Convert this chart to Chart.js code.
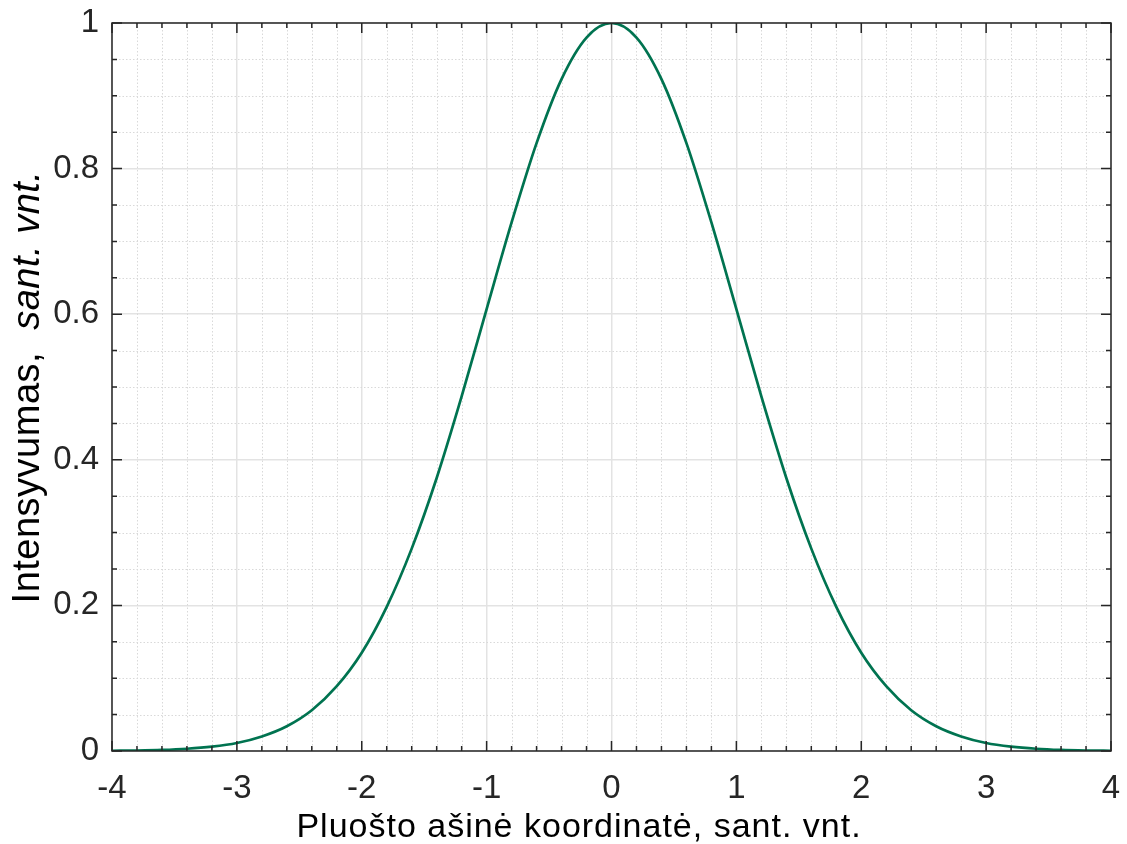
<!DOCTYPE html>
<html>
<head>
<meta charset="utf-8">
<title>Intensyvumas</title>
<script src="https://cdn.jsdelivr.net/npm/chart.js@4.4.1/dist/chart.umd.min.js"></script>
<style>
  html, body { margin: 0; padding: 0; background: #fff; }
  #wrap { width: 1127px; height: 844px; }
</style>
</head>
<body>
<div id="wrap"><canvas id="plot" width="1127" height="844"></canvas></div>
<script>
// Pluošto koordinatė ir intensyvumas
const xValues = [
  -4.0, -3.8, -3.6, -3.4, -3.2, -3.0, -2.8, -2.6, -2.4, -2.2,
  -2.0, -1.8, -1.6, -1.4, -1.2, -1.0, -0.8, -0.6, -0.4, -0.2,
   0.0,  0.2,  0.4,  0.6,  0.8,  1.0,  1.2,  1.4,  1.6,  1.8,
   2.0,  2.2,  2.4,  2.6,  2.8,  3.0,  3.2,  3.4,  3.6,  3.8, 4.0
];
const intensity = [
  0.0003, 0.0007, 0.0015, 0.0031, 0.006, 0.011, 0.020, 0.034, 0.056, 0.089,
  0.135, 0.198, 0.278, 0.375, 0.487, 0.607, 0.726, 0.835, 0.923, 0.980,
  1.000, 0.980, 0.923, 0.835, 0.726, 0.607, 0.487, 0.375, 0.278, 0.198,
  0.135, 0.089, 0.056, 0.034, 0.020, 0.011, 0.006, 0.0031, 0.0015, 0.0007, 0.0003
];

// ašių padalos
const xTicks = [-4, -3, -2, -1, 0, 1, 2, 3, 4];
const yTicks = [0, 0.2, 0.4, 0.6, 0.8, 1];
const xMinor = [-3.8, -3.6, -3.4, -3.2, -2.8, -2.6, -2.4, -2.2, -1.8, -1.6, -1.4, -1.2,
  -0.8, -0.6, -0.4, -0.2, 0.2, 0.4, 0.6, 0.8, 1.2, 1.4, 1.6, 1.8,
  2.2, 2.4, 2.6, 2.8, 3.2, 3.4, 3.6, 3.8];
const yMinor = [0.05, 0.1, 0.15, 0.25, 0.3, 0.35, 0.45, 0.5, 0.55, 0.65, 0.7, 0.75, 0.85, 0.9, 0.95];

const xTitle = "Pluošto ašinė koordinatė, sant. vnt.";
const yTitleMain = "Intensyvumas,  ";
const yTitleUnit = "sant. vnt.";

const FONT = "'Liberation Sans', Arial, sans-serif";
const AXIS_COLOR = '#262626';

// smulkus tinklelis (taškinės linijos)
const minorGrid = {
  id: 'minorGrid',
  beforeDatasetsDraw(chart) {
    const { ctx, chartArea: a, scales: { x, y } } = chart;
    ctx.save();
    ctx.strokeStyle = '#d9d9d9';
    ctx.lineWidth = 1;
    ctx.setLineDash([1.5, 2]);
    ctx.beginPath();
    for (const v of xMinor) {
      const px = Math.round(x.getPixelForValue(v)) + 0.5;
      ctx.moveTo(px, a.top); ctx.lineTo(px, a.bottom);
    }
    for (const v of yMinor) {
      const py = Math.round(y.getPixelForValue(v)) + 0.5;
      ctx.moveTo(a.left, py); ctx.lineTo(a.right, py);
    }
    ctx.stroke();
    ctx.restore();
  }
};

// rėmelis, vidinės padalos ir ašių pavadinimai
const frame = {
  id: 'frame',
  afterDatasetsDraw(chart) {
    const { ctx, chartArea: a, scales: { x, y } } = chart;
    ctx.save();
    ctx.strokeStyle = AXIS_COLOR;
    ctx.lineWidth = 1.5;
    ctx.strokeRect(a.left, a.top, a.right - a.left, a.bottom - a.top);

    ctx.beginPath();
    const tick = (list, len) => {
      for (const v of list) {
        const px = x.getPixelForValue(v);
        ctx.moveTo(px, a.bottom); ctx.lineTo(px, a.bottom - len);
        ctx.moveTo(px, a.top); ctx.lineTo(px, a.top + len);
      }
    };
    tick(xTicks, 10);
    tick(xMinor, 5);
    const ytick = (list, len) => {
      for (const v of list) {
        const py = y.getPixelForValue(v);
        ctx.moveTo(a.left, py); ctx.lineTo(a.left + len, py);
        ctx.moveTo(a.right, py); ctx.lineTo(a.right - len, py);
      }
    };
    ytick(yTicks, 10);
    ytick(yMinor, 5);
    ctx.stroke();

    // x ašies pavadinimas
    ctx.fillStyle = '#000';
    ctx.font = `34px ${FONT}`;
    ctx.letterSpacing = '1px';
    ctx.textAlign = 'center';
    ctx.textBaseline = 'alphabetic';
    ctx.fillText(xTitle, 579, 837);

    // y ašies pavadinimas: vienetai kursyvu
    ctx.letterSpacing = '0.5px';
    ctx.translate(39, (a.top + a.bottom) / 2);
    ctx.rotate(-Math.PI / 2);
    ctx.font = `38px ${FONT}`;
    const w1 = ctx.measureText(yTitleMain).width;
    ctx.font = `italic 38px ${FONT}`;
    const w2 = ctx.measureText(yTitleUnit).width;
    const start = -(w1 + w2) / 2;
    ctx.textAlign = 'left';
    ctx.font = `38px ${FONT}`;
    ctx.fillText(yTitleMain, start, 0);
    ctx.font = `italic 38px ${FONT}`;
    ctx.fillText(yTitleUnit, start + w1, 0);
    ctx.restore();
  }
};

new Chart(document.getElementById('plot'), {
  type: 'line',
  data: {
    datasets: [{
      data: xValues.map((v, i) => ({ x: v, y: intensity[i] })),
      borderColor: '#007350',
      borderWidth: 2.7,
      pointRadius: 0,
      fill: false,
      cubicInterpolationMode: 'monotone'
    }]
  },
  options: {
    responsive: false,
    animation: false,
    events: [],
    layout: { autoPadding: false, padding: { top: 23, right: 16, left: 0, bottom: 0 } },
    plugins: { legend: { display: false }, tooltip: { enabled: false } },
    scales: {
      x: {
        type: 'linear',
        min: -4, max: 4,
        afterBuildTicks: s => { s.ticks = xTicks.map(v => ({ value: v })); },
        afterFit: s => { s.height = 93; s.paddingLeft = 0; s.paddingRight = 0; },
        grid: { color: '#e3e3e3', lineWidth: 1.5, drawTicks: false },
        border: { display: false },
        ticks: {
          color: AXIS_COLOR, font: { family: FONT, size: 33 }, padding: 18, maxRotation: 0,
          callback: v => String(v)
        }
      },
      y: {
        type: 'linear',
        min: 0, max: 1,
        afterBuildTicks: s => { s.ticks = yTicks.map(v => ({ value: v })); },
        afterFit: s => { s.width = 112; s.paddingTop = 0; s.paddingBottom = 0; },
        grid: { color: '#e3e3e3', lineWidth: 1.5, drawTicks: false },
        border: { display: false },
        ticks: {
          color: AXIS_COLOR, font: { family: FONT, size: 33 }, padding: 13,
          callback: v => String(+v.toFixed(2))
        }
      }
    }
  },
  plugins: [minorGrid, frame]
});
</script>
</body>
</html>
